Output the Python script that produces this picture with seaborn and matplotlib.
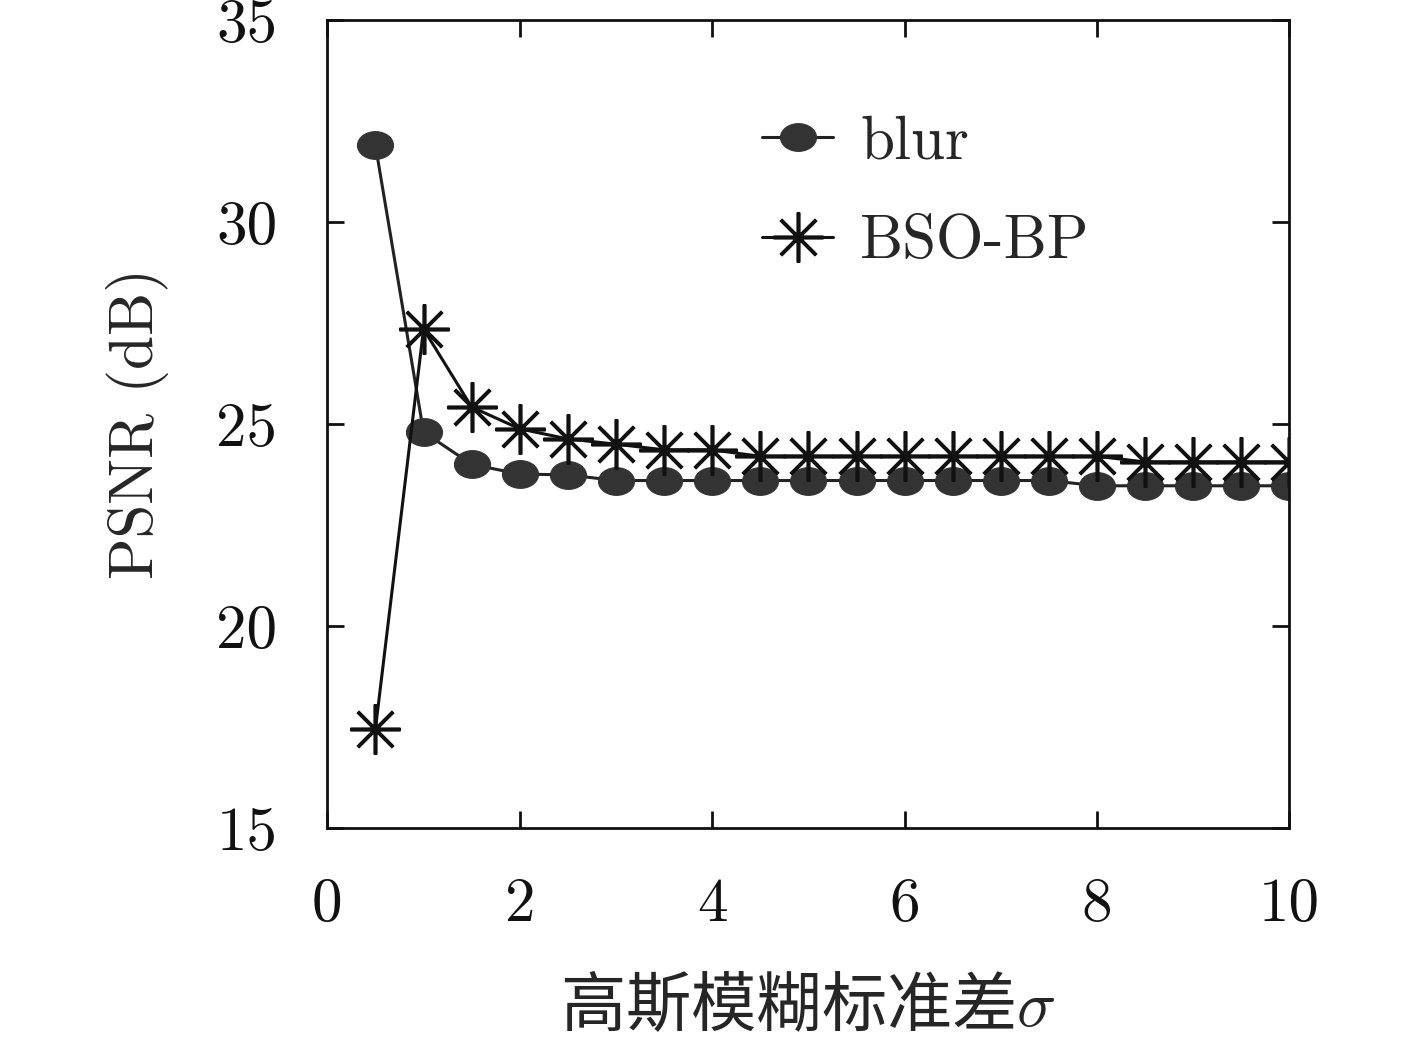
import numpy as np
import pandas as pd
import matplotlib
matplotlib.use("Agg")
import matplotlib.pyplot as plt
import seaborn as sns
from matplotlib.path import Path
from matplotlib.transforms import Affine2D

sigma = [0.5, 1.0, 1.5, 2.0, 2.5, 3.0, 3.5, 4.0, 4.5, 5.0, 5.5, 6.0, 6.5, 7.0, 7.5, 8.0, 8.5, 9.0, 9.5, 10.0]
blur = [31.9, 24.8, 24.0, 23.76, 23.74, 23.6, 23.6, 23.6, 23.6, 23.6, 23.6, 23.6, 23.6, 23.6, 23.6, 23.47, 23.47, 23.47, 23.47, 23.47]
bso_bp = [17.45, 27.35, 25.42, 24.88, 24.63, 24.5, 24.36, 24.36, 24.2, 24.2, 24.2, 24.2, 24.2, 24.2, 24.2, 24.2, 24.06, 24.06, 24.06, 24.06]
labels = ["blur", "BSO-BP"]
xlabel = "高斯模糊标准差$\\sigma$"
ylabel = "PSNR (dB)"

sns.set_theme(style="white")
plt.rcParams["font.family"] = ["cmr10", "Noto Sans CJK SC", "DejaVu Sans"]
plt.rcParams["mathtext.fontset"] = "cm"
plt.rcParams["axes.formatter.use_mathtext"] = True
plt.rcParams["axes.unicode_minus"] = False

fig = plt.figure(figsize=(14.17, 10.56), dpi=100)
ax = fig.add_axes([0.231, 0.216, 0.679, 0.765])

ellipse = Path.unit_circle().transformed(Affine2D().scale(1.3, 1.0))

df_blur = pd.DataFrame({"x": sigma, "y": blur})
df_bso = pd.DataFrame({"x": sigma, "y": bso_bp})
sns.lineplot(data=df_blur, x="x", y="y", ax=ax, color="#222222", lw=2.2,
             marker=ellipse, markersize=26, markerfacecolor="#333333",
             markeredgecolor="#333333", label=labels[0])
sns.lineplot(data=df_bso, x="x", y="y", ax=ax, color="#111111", lw=2.2,
             marker=(8, 2, 0), markersize=36, markeredgewidth=2.6,
             markeredgecolor="#111111", label=labels[1])

ax.set_xlim(0, 10)
ax.set_ylim(15, 35)
ax.set_xticks([0, 2, 4, 6, 8, 10])
ax.set_yticks([15, 20, 25, 30, 35])
ax.set_xticklabels(["0", "2", "4", "6", "8", "10"])
ax.set_yticklabels(["15", "20", "25", "30", "35"])
ax.tick_params(direction="in", length=12, width=2, labelsize=44, top=True, right=True,
               bottom=True, left=True, colors="#111111")
ax.tick_params(axis="x", pad=36)
ax.tick_params(axis="y", pad=36)
for s in ax.spines.values():
    s.set_linewidth(2)
    s.set_color("#111111")

ax.set_xlabel(xlabel, fontsize=47, family=["Noto Sans CJK SC", "DejaVu Sans"], labelpad=30)
ax.set_ylabel(ylabel, fontsize=44, labelpad=34)

leg = ax.legend(loc="upper left", bbox_to_anchor=(0.395, 0.95), frameon=False, fontsize=44,
                handlelength=1.15, labelspacing=0.72, handletextpad=0.45)

fig.savefig("out.png", dpi=100, facecolor="white")
